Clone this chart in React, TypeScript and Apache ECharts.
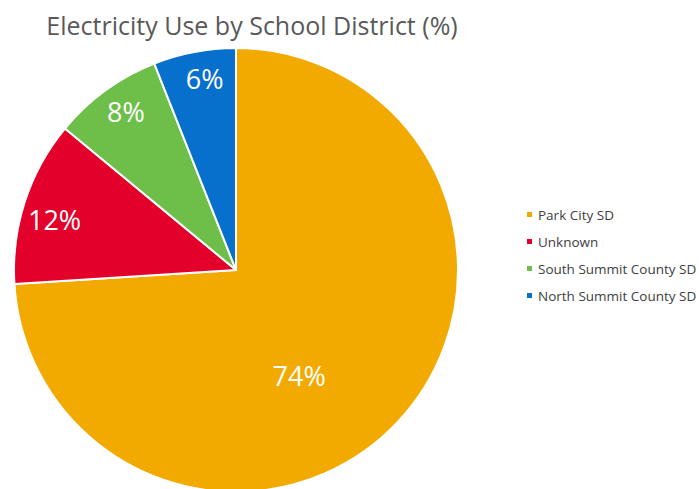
import React, { useEffect, useRef } from "react";
import * as echarts from "echarts";

const categories = ["Park City SD", "Unknown", "South Summit County SD", "North Summit County SD"];
const values = [74, 12, 8, 6];
const colors = ["#F2AA00", "#E3002B", "#6EBF4A", "#0770CC"];
const labelOffsets: [number, number][] = [[-20, 27], [-73, -15], [-43, -66], [-10, -80]];

export default function App() {
  const ref = useRef<HTMLDivElement>(null);
  useEffect(() => {
    if (!ref.current) return;
    const chart = echarts.init(ref.current, null, { renderer: "svg" });
    chart.setOption({
      animation: false,
      backgroundColor: "#ffffff",
      title: {
        text: "Electricity Use by School District (%)",
        left: 247,
        textAlign: "center",
        top: 7,
        textStyle: { fontFamily: "Open Sans", fontSize: 25, fontWeight: "normal", color: "#595959" },
      },
      legend: {
        orient: "vertical",
        left: 525,
        top: 206,
        padding: 0,
        itemWidth: 7,
        itemHeight: 7,
        itemGap: 10,
        icon: "rect",
        data: categories,
        textStyle: { fontFamily: "Open Sans", fontSize: 13.5, color: "#404040", lineHeight: 17 },
      },
      series: [
        {
          type: "pie",
          center: [236, 270],
          radius: 222,
          startAngle: 90,
          clockwise: true,
          itemStyle: { borderColor: "#ffffff", borderWidth: 2 },
          label: {
            show: true,
            position: "inside",
            formatter: "{c}%",
            color: "#ffffff",
            fontFamily: "Open Sans",
            fontSize: 27,
          },
          labelLine: { show: false },
          data: categories.map((name, i) => ({
            name,
            value: values[i],
            itemStyle: { color: colors[i] },
            label: { offset: labelOffsets[i] },
          })),
        },
      ],
    });
    return () => chart.dispose();
  }, []);
  return <div ref={ref} style={{ position: "fixed", left: 0, top: 0, width: 699, height: 489 }} />;
}
